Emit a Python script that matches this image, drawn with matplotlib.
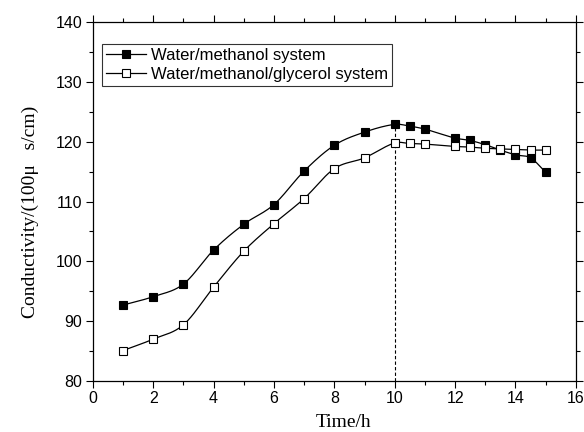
import numpy as np
import matplotlib
matplotlib.use("Agg")
import matplotlib.pyplot as plt
from matplotlib.ticker import MultipleLocator

# data
time_h = [1, 2, 3, 4, 5, 6, 7, 8, 9, 10, 10.5, 11, 12, 12.5, 13, 13.5, 14, 14.5, 15]
water_methanol = [92.7, 94.1, 96.2, 101.9, 106.2, 109.5, 115.1, 119.4, 121.6, 122.9,
                  122.6, 122.1, 120.6, 120.2, 119.5, 118.6, 117.8, 117.3, 114.9]
water_methanol_glycerol = [85.1, 87.0, 89.4, 95.7, 101.7, 106.3, 110.5, 115.5, 117.3, 119.8,
                           119.7, 119.6, 119.2, 119.1, 118.9, 118.8, 118.7, 118.6, 118.6]
labels = ["Water/methanol system", "Water/methanol/glycerol system"]
peak_time = 10


def smooth(x, y, n=20):
    # cubic hermite curve through the points (line drawing only)
    x = np.asarray(x, float)
    y = np.asarray(y, float)

    def slope(j):
        if j == 0:
            return (y[1] - y[0]) / (x[1] - x[0])
        if j == len(x) - 1:
            return (y[-1] - y[-2]) / (x[-1] - x[-2])
        return (y[j + 1] - y[j - 1]) / (x[j + 1] - x[j - 1])

    xs, ys = [], []
    for i in range(len(x) - 1):
        x0, x1 = x[i], x[i + 1]
        y0, y1 = y[i], y[i + 1]
        m0, m1 = slope(i), slope(i + 1)
        h = x1 - x0
        t = np.linspace(0, 1, n, endpoint=False)
        h00 = 2 * t**3 - 3 * t**2 + 1
        h10 = t**3 - 2 * t**2 + t
        h01 = -2 * t**3 + 3 * t**2
        h11 = t**3 - t**2
        xs.append(x0 + t * h)
        ys.append(h00 * y0 + h10 * h * m0 + h01 * y1 + h11 * h * m1)
    xs.append([x[-1]])
    ys.append([y[-1]])
    return np.concatenate(xs), np.concatenate(ys)


plt.rcParams['font.family'] = ['Liberation Sans', 'DejaVu Sans']

fig = plt.figure(figsize=(5.84, 4.32), dpi=100)
ax = fig.add_axes([0.159, 0.118, 0.827, 0.831])

for yv, face, lab in [(water_methanol, 'black', labels[0]),
                      (water_methanol_glycerol, 'white', labels[1])]:
    sx, sy = smooth(time_h, yv)
    ax.plot(sx, sy, color='black', lw=0.9, zorder=2)
    ax.plot(time_h, yv, ls='none', marker='s', ms=5.8, mfc=face, mec='black', mew=0.8, zorder=3)
    ax.plot([], [], color='black', lw=0.9, marker='s', ms=5.8, mfc=face, mec='black', mew=0.8, label=lab)

peak_val = water_methanol[time_h.index(peak_time)]
ax.plot([peak_time, peak_time], [80, peak_val], color='black', ls=(0, (3, 2)), lw=0.8, zorder=1)

ax.set_xlim(0, 16)
ax.set_ylim(80, 140)
ax.xaxis.set_major_locator(MultipleLocator(2))
ax.xaxis.set_minor_locator(MultipleLocator(1))
ax.yaxis.set_major_locator(MultipleLocator(10))
ax.yaxis.set_minor_locator(MultipleLocator(5))
ax.tick_params(which='both', direction='out', top=True, right=True, labelsize=11.5, width=0.8)
ax.tick_params(which='major', length=5, pad=2.5)
ax.tick_params(which='minor', length=3)
for s in ax.spines.values():
    s.set_linewidth(0.9)

ax.set_xlabel("Time/h", family='Liberation Serif', fontsize=14, labelpad=0)
ax.xaxis.set_label_coords(0.518, -0.093)
ax.set_ylabel("Conductivity/(100\u03bc   s/cm)", family='Liberation Serif', fontsize=14, labelpad=6)
ax.yaxis.set_label_coords(-0.112, 0.47)

leg = ax.legend(loc='upper left', bbox_to_anchor=(0.018, 0.94), frameon=True, fancybox=False,
                edgecolor='black', fontsize=12, handlelength=2.4, handletextpad=0.3,
                borderpad=0.25, labelspacing=0.25, borderaxespad=0)
leg.get_frame().set_linewidth(0.8)

fig.savefig("out.png", dpi=100)
